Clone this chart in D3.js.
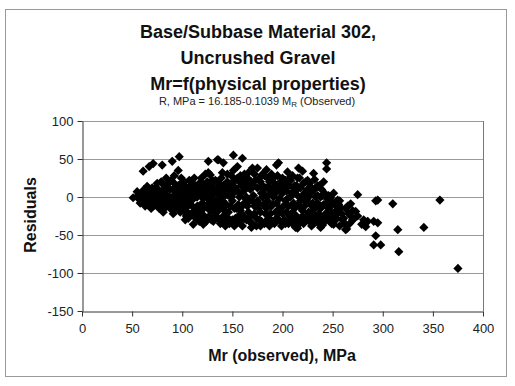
<!DOCTYPE html>
<html><head><meta charset="utf-8">
<script src="https://cdn.jsdelivr.net/npm/d3@7"></script>
<style>body{margin:0;background:#fff}svg{display:block;font-family:"Liberation Sans",Arial,sans-serif}</style>
</head><body>
<script>
const titleLines = ["Base/Subbase Material 302,", "Uncrushed Gravel", "Mr=f(physical properties)"];
const xTicks = [0, 50, 100, 150, 200, 250, 300, 350, 400];
const yTicks = [-150, -100, -50, 0, 50, 100];
// [Mr observed (MPa), residual (MPa)]
const points = [
[51,-1],[55,7],[57,-3],[56,2],
[61,34],[60,5],[62,-5],[63,-12],[64,8],[60,0],[63,2],
[67,40],[71,44],[66,-2],[68,10],[70,-8],[72,3],[69,-15],[73,12],[74,-5],[71,-12],[75,18],[66,5],
[80,42],[77,0],[78,-10],[80,8],[82,15],[84,-5],[79,20],[83,-14],[76,5],[81,-20],[85,2],[84,25],
[90,47],[88,10],[87,-8],[90,0],[92,18],[93,-15],[89,22],[94,5],[91,-22],[86,-3],[95,-8],[92,28],
[97,53],[96,35],[98,12],[100,0],[97,-10],[102,20],[101,-18],[99,25],[103,5],[104,-25],[100,-5],[96,15],
[103,-30],[111,-36],[106,0],[108,15],[110,-12],[107,22],[112,5],[105,-20],[109,-5],[112,25],[106,10],
[121,-36],[115,0],[118,12],[120,-8],[116,-20],[119,25],[122,5],[114,-28],[117,18],[121,-15],[123,30],
[126,47],[126,32],[128,29],[125,20],[124,0],[130,-10],[127,-25],[132,8],[129,15],[131,-32],[133,-5],[128,-18],
[135,49],[136,49],[141,45],[134,20],[138,0],[140,-15],[137,-30],[142,10],[139,25],[143,-38],[135,-5],[141,-25],[136,12],
[151,55],[145,30],[148,10],[150,-5],[146,-20],[152,22],[147,-35],[149,0],[144,15],[153,-28],[151,35],
[160,51],[155,40],[157,20],[159,5],[156,-10],[161,-25],[154,-35],[162,30],[158,-18],[163,10],[160,-38],
[165,25],[168,10],[170,-5],[166,-20],[172,30],[167,-32],[171,15],[164,0],[169,-40],[173,-12],[170,38],
[175,38],[178,20],[180,0],[176,-15],[182,28],[177,-30],[181,10],[174,-38],[183,-22],[179,5],[184,36],
[185,25],[188,8],[190,-10],[186,-28],[192,18],[187,-38],[191,0],[189,30],[193,-20],[185,-5],
[196,45],[194,42],[198,20],[200,5],[197,-15],[202,-30],[195,28],[201,12],[199,-38],[203,-5],[205,33],
[205,20],[208,0],[210,-20],[206,-35],[212,15],[207,25],[211,-8],[209,-28],[213,-40],[204,8],
[216,38],[215,-41],[214,15],[218,-5],[220,-25],[217,25],[222,5],[219,-15],[221,-35],[223,20],[220,34],
[231,31],[232,23],[225,10],[228,-10],[230,-28],[226,-20],[233,0],[227,18],[229,-38],[224,-3],[232,-15],
[240,-37],[235,15],[238,0],[236,-22],[241,-10],[237,-30],[242,5],[239,10],
[244,45],[244,37],[245,-3],[248,-1],[251,5],[251,-36],[246,-15],[250,-25],[247,-32],[252,-8],
[255,-14],[255,-4],[258,-14],[260,-30],[261,-28],[263,-43],[263,-15],[256,-20],
[264,-42],[268,-9],[270,-30],[271,-29],[273,-19],[275,3],[275,-25],[279,-36],[283,-39],[285,-32],
[291,-32],[293,-5],[295,-4],[295,-34],[293,-51],[291,-63],[298,-63],[310,-9],[315,-43],[316,-72],[341,-40],[357,-4],[375,-94],
[58,-8],[65,14],[72,-4],[78,-3],[82,4],[86,12],[88,-15],[94,-2],[98,-20],[102,8],[105,-8],[110,18],[113,-18],
[115,10],[118,-28],[122,15],[125,-10],[130,22],[132,-20],[138,-12],[140,32],[144,-10],[146,2],[150,18],[152,-15],
[155,8],[158,28],[162,-8],[164,-30],[167,18],[172,-22],[175,-5],[178,-38],[180,30],[183,2],[186,14],[190,-32],
[194,-8],[196,10],[200,-22],[203,22],[206,-12],[210,28],[212,-32],[215,2],[218,-30],[222,-12],[225,-30],[228,5],
[232,-32],[235,-8],[238,-40],[241,20],[243,-22],[248,-12],[253,-30],[257,-5],[266,-22],[267,-35],[281,-30],
[57,4],[59,-2],[62,10],[64,-8],[67,-6],[68,2],[70,12],[73,-9],[75,-2],[76,10],[77,-15],[79,-6],[81,-2],[83,8],
[84,-10],[86,18],[87,0],[89,-5],[90,-12],[91,10],[93,-3],[94,14],[95,0],[96,-15],[97,4],[98,-6],[99,18],[100,10],
[101,-12],[102,-2],[103,14],[104,-14],[105,2],[106,-28],[107,-6],[108,5],[109,-22],[110,10],[111,-2],[112,-26],
[113,15],[114,0],[115,-12],[116,8],[117,-32],[118,2],[119,-18],[120,18],[121,-2],[122,-25],[123,10],[124,-32],
[125,6],[126,-15],[127,12],[128,-5],[129,-30],[130,2],[131,12],[132,-12],[133,22],[134,-25],[135,5],[136,-18],
[137,18],[138,-35],[139,8],[140,-5],[141,15],[142,-32],[143,2],[144,-20],[145,20],[146,-28],[147,8],[148,-12],
[149,28],[150,-30],[151,5],[152,-38],[153,12],[154,-15],[155,25],[156,-25],[157,0],[158,-32],[159,15],[160,-12],
[161,22],[162,-28],[163,-2],[164,15],[165,-12],[166,32],[167,-5],[168,-25],[169,20],[170,-35],[171,2],[172,-12],
[173,22],[174,-28],[175,12],[176,-8],[177,25],[178,-20],[179,-32],[180,15],[181,-10],[182,-35],[183,12],[184,-15],
[185,-30],[186,2],[187,20],[188,-22],[189,-12],[190,10],[191,25],[192,-35],[193,5],[194,-28],[195,15],[196,-22],
[197,-2],[198,-32],[199,8],[200,25],[201,-12],[202,15],[203,-35],[204,-20],[205,-2],[206,15],[207,-25],[208,22],
[209,5],[210,-35],[211,12],[212,-15],[213,8],[214,-25],[215,25],[216,-10],[217,-35],[218,12],[219,0],[220,-18],
[221,18],[222,-30],[223,-5],[224,-25],[225,22],[226,0],[227,-32],[228,-20],[229,12],[230,-8],[231,-35],[232,10],
[233,-25],[234,-12],[235,2],[236,-35],[237,15],[238,-15],[239,-28],[240,2],[242,-32],[243,-10],[245,-25],[246,2],
[247,-18],[249,-35],[250,-8],[252,-20],[254,-28],[256,-10],[257,-38],[259,-22],[262,-35],[265,-12],[268,-25],[270,-18]
];

const W = 515, H = 386;
const svg = d3.select("body").append("svg").attr("width", W).attr("height", H);
svg.append("rect").attr("x", 5.5).attr("y", 9.5).attr("width", 501).attr("height", 367)
  .attr("fill", "#fff").attr("stroke", "#999").attr("stroke-width", 1);

const pLeft = 82, pRight = 483, pTop = 121, pBottom = 311;
const x = d3.scaleLinear().domain([0, 400]).range([pLeft, pRight]);
const y = d3.scaleLinear().domain([-150, 100]).range([pBottom, pTop]);

svg.append("g").selectAll("line").data(yTicks.filter(v => v > -150)).join("line")
  .attr("x1", pLeft).attr("x2", pRight).attr("y1", d => Math.round(y(d)) + 0.5).attr("y2", d => Math.round(y(d)) + 0.5)
  .attr("stroke", "#9a9a9a").attr("stroke-width", 1);
svg.append("line").attr("x1", pRight + 0.5).attr("x2", pRight + 0.5).attr("y1", pTop).attr("y2", pBottom)
  .attr("stroke", "#777");

const xAxis = svg.append("g").attr("transform", `translate(0,${Math.round(pBottom) + 0.5})`)
  .call(d3.axisBottom(x).tickValues(xTicks).tickSize(5).tickSizeOuter(0).tickPadding(7));
const yAxis = svg.append("g").attr("transform", `translate(${pLeft + 0.5},0)`)
  .call(d3.axisLeft(y).tickValues(yTicks).tickSize(5).tickSizeOuter(0).tickPadding(4)
    .tickFormat(d => d < 0 ? "-" + Math.abs(d) : d));
[xAxis, yAxis].forEach(g => {
  g.selectAll("text").attr("font-size", 13).attr("fill", "#222").attr("font-family", "Liberation Sans, Arial, sans-serif");
  g.selectAll("path,line").attr("stroke", "#333");
});

svg.append("g").selectAll("path").data(points).join("path")
  .attr("transform", d => `translate(${x(d[0])},${y(d[1])})`)
  .attr("d", "M0,-4.6L4.6,0L0,4.6L-4.6,0Z").attr("fill", "#000");

const tg = svg.append("g").attr("text-anchor", "middle").attr("font-weight", "bold").attr("font-size", 18).attr("fill", "#111");
titleLines.forEach((t, i) => tg.append("text").attr("x", 258).attr("y", 38 + i * 26).text(t));
const sub = svg.append("text").attr("x", 257).attr("y", 105).attr("text-anchor", "middle").attr("font-size", 11).attr("fill", "#222");
sub.append("tspan").text("R, MPa = 16.185-0.1039 M");
sub.append("tspan").attr("font-size", 8).attr("dy", 2).text("R");
sub.append("tspan").attr("dy", -2).text(" (Observed)");

svg.append("text").attr("x", 282).attr("y", 361).attr("text-anchor", "middle").attr("font-weight", "bold")
  .attr("font-size", 16).attr("fill", "#111").text("Mr (observed), MPa");
svg.append("text").attr("transform", "translate(36,215) rotate(-90)").attr("text-anchor", "middle")
  .attr("font-weight", "bold").attr("font-size", 16).attr("fill", "#111").text("Residuals");
</script>
</body></html>
